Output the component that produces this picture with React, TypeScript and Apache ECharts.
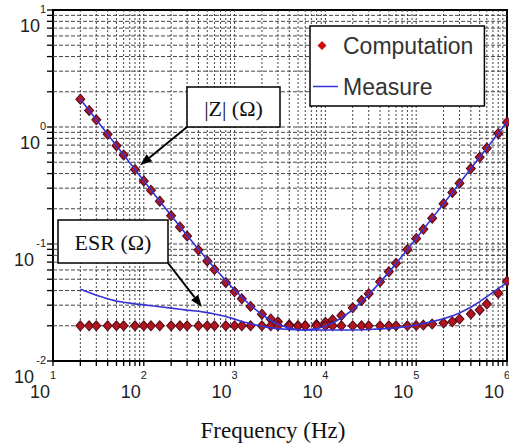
import React, { useEffect, useRef } from 'react';
import * as echarts from 'echarts';

// Measurement frequencies (Hz)
const freqHz = [
  20, 25, 30, 40, 50, 60, 80, 100, 120, 150, 200, 250, 300, 400, 500, 600, 800,
  1000, 1200, 1500, 2000, 2500, 3000, 4000, 5000, 6000, 8000,
  10000, 12000, 15000, 20000, 25000, 30000, 40000, 50000, 60000, 80000,
  100000, 120000, 150000, 200000, 250000, 300000, 400000, 500000, 600000, 800000,
  1000000,
];

// Computed impedance magnitude |Z| (ohm)
const zComputed = [
  1.73, 1.384, 1.153, 0.865, 0.692, 0.577, 0.433, 0.346, 0.288, 0.232, 0.174,
  0.140, 0.117, 0.0888, 0.0716, 0.0604, 0.0469, 0.0390, 0.0340, 0.0293, 0.0251,
  0.0229, 0.0216, 0.0204, 0.0200, 0.0200, 0.0205, 0.0214, 0.0225, 0.0245, 0.0285,
  0.0329, 0.0376, 0.0475, 0.0579, 0.0684, 0.0898, 0.1115, 0.1335, 0.1663, 0.221,
  0.276, 0.331, 0.441, 0.551, 0.661, 0.881, 1.10,
];

// Computed equivalent series resistance (ohm)
const esrComputed = [
  0.0200, 0.0200, 0.0200, 0.0200, 0.0200, 0.0200, 0.0200, 0.0200, 0.0200, 0.0200,
  0.0200, 0.0200, 0.0200, 0.0200, 0.0200, 0.0200, 0.0200, 0.0200, 0.0200, 0.0200,
  0.0200, 0.0200, 0.0200, 0.0200, 0.0200, 0.0200, 0.0200, 0.0200, 0.0200, 0.0200,
  0.0200, 0.0200, 0.0200, 0.0200, 0.0200, 0.0200, 0.0200, 0.0201, 0.0203, 0.0207,
  0.0211, 0.0216, 0.0228, 0.0252, 0.0273, 0.0307, 0.0380, 0.0480,
];

// Measured |Z| (ohm)
const zMeasured = [
  1.73, 1.385, 1.154, 0.866, 0.693, 0.578, 0.434, 0.347, 0.290, 0.232, 0.175,
  0.141, 0.118, 0.0900, 0.0734, 0.0623, 0.0487, 0.0405, 0.0351, 0.0298, 0.0249,
  0.0222, 0.0206, 0.0191, 0.0185, 0.0184, 0.0189, 0.0199, 0.0211, 0.0233, 0.0274,
  0.0320, 0.0369, 0.0470, 0.0575, 0.0682, 0.0898, 0.1116, 0.1336, 0.1664, 0.2212,
  0.2761, 0.331, 0.441, 0.551, 0.661, 0.881, 1.101,
];

// Measured ESR (ohm)
const esrMeasured = [
  0.0410, 0.0385, 0.0365, 0.0340, 0.0325, 0.0318, 0.0308, 0.0302, 0.0297, 0.0291,
  0.0283, 0.0277, 0.0272, 0.0266, 0.0259, 0.0252, 0.0240, 0.0228, 0.0218, 0.0208,
  0.0198, 0.0192, 0.0189, 0.0186, 0.0185, 0.0184, 0.0184, 0.0184, 0.0184, 0.0184,
  0.0184, 0.0185, 0.0186, 0.0188, 0.0190, 0.0192, 0.0197, 0.0203, 0.0209, 0.0217,
  0.0230, 0.0243, 0.0257, 0.0288, 0.0322, 0.0355, 0.0415, 0.0468,
];

// Decade exponents printed on the axes
const xExponents = ['1', '2', '3', '4', '5', '6'];
const yExponents = ['-2', '-1', '0', '1'];

const legendNames = ['Computation', 'Measure'];
const annotationTexts = ['|Z| (\u03A9)', 'ESR (\u03A9)'];

// Points (Hz, ohm) that the callout arrows point at
const zArrowTip = [91, 0.47];
const esrArrowTip = [437, 0.029];

const X_MIN = 10;
const X_MAX = 1e6;
const Y_MIN = 0.01;
const Y_MAX = 10;

// Decade + sub-decade grid positions (1..9 x 10^n)
function logGrid(min: number, max: number): number[] {
  const out: number[] = [];
  for (let d = Math.round(Math.log10(min)); d < Math.round(Math.log10(max)); d++) {
    for (let m = 1; m <= 9; m++) out.push(m * Math.pow(10, d));
  }
  out.push(max);
  return out;
}

const SANS = '"Liberation Sans", Arial, sans-serif';
const SERIF = '"Liberation Serif", "Times New Roman", serif';
const RED = '#b3151b';
const RED_EDGE = '#4d0a1e';
const BLUE = '#3434d6';

// Legend icons: a 25x9 box so the glyph keeps its own proportions
const DIAMOND_ICON = 'path://M9,0L13.5,4.5L9,9L4.5,4.5Z M0,0L0,0Z M25,9L25,9Z';
const LINE_ICON = 'path://M0,3.7L25,3.7L25,5.3L0,5.3Z M0,0L0,0Z M25,9L25,9Z';

function expOf(v: number, list: string[], base: number): string {
  const e = Math.round(Math.log10(v));
  return list[e - base] ?? String(e);
}

function arrow(id: string, x1: number, y1: number, x2: number, y2: number) {
  const dx = x2 - x1;
  const dy = y2 - y1;
  const len = Math.hypot(dx, dy);
  const ux = dx / len;
  const uy = dy / len;
  const head = 12;
  const half = 4.5;
  const bx = x2 - ux * head;
  const by = y2 - uy * head;
  return [
    {
      id: id + '-shaft',
      type: 'line',
      z: 100,
      shape: { x1, y1, x2: bx, y2: by },
      style: { stroke: '#000', lineWidth: 2 },
    },
    {
      id: id + '-head',
      type: 'polygon',
      z: 100,
      shape: {
        points: [
          [x2, y2],
          [bx - uy * half, by + ux * half],
          [bx + uy * half, by - ux * half],
        ],
      },
      style: { fill: '#000' },
    },
  ];
}

function calloutBox(id: string, x: number, y: number, w: number, h: number, text: string) {
  return [
    {
      id: id + '-box',
      type: 'rect',
      z: 100,
      shape: { x, y, width: w, height: h },
      style: { fill: '#fff', stroke: '#000', lineWidth: 1.5 },
    },
    {
      id: id + '-text',
      type: 'text',
      z: 101,
      x: x + w / 2,
      y: y + h / 2 + 1,
      style: {
        text,
        font: `22px ${SERIF}`,
        fill: '#111',
        align: 'center',
        verticalAlign: 'middle',
        textAlign: 'center',
        textVerticalAlign: 'middle',
      },
    },
  ];
}

export default function App() {
  const ref = useRef<HTMLDivElement>(null);

  useEffect(() => {
    const el = ref.current;
    if (!el) return;
    const chart = echarts.init(el, null, { renderer: 'svg' });

    const xGrid = logGrid(X_MIN, X_MAX).map((v) => [v, 1]);
    const yGrid = logGrid(Y_MIN, Y_MAX).map((v) => [X_MIN, v]);

    const gridDash = { stroke: '#444', lineWidth: 1 };

    const option: any = {
      animation: false,
      backgroundColor: '#fff',
      grid: {
        left: 53,
        right: 2,
        top: 10,
        bottom: 83,
        containLabel: false,
        outerBoundsMode: 'none',
        show: true,
        backgroundColor: '#fff',
        borderColor: '#000',
        borderWidth: 2,
      },
      legend: {
        orient: 'vertical',
        left: 310,
        top: 26,
        data: [
          {
            name: legendNames[0],
            icon: DIAMOND_ICON,
            itemStyle: { color: '#cc1010', borderWidth: 0 },
          },
          {
            name: legendNames[1],
            icon: LINE_ICON,
            itemStyle: { color: BLUE, borderWidth: 0 },
          },
        ],
        itemWidth: 25,
        itemHeight: 9,
        itemGap: 18,
        textStyle: { fontFamily: SANS, fontSize: 23, color: '#333' },
        backgroundColor: '#fff',
        borderColor: '#000',
        borderWidth: 1.5,
        borderRadius: 0,
        padding: [8, 11, 8, 3],
      },
      xAxis: {
        type: 'log',
        logBase: 10,
        min: X_MIN,
        max: X_MAX,
        splitNumber: 5,
        axisLine: { show: true, lineStyle: { color: '#000', width: 2 } },
        axisTick: { show: false },
        splitLine: { show: false },
        axisLabel: {
          margin: 8,
          color: '#222',
          fontFamily: SANS,
          formatter: (v: number) => `{e|${expOf(v, xExponents, 1)}}\n{b|10}`,
          rich: {
            e: { fontFamily: SANS, fontSize: 11, lineHeight: 12, color: '#222', padding: [0, 20, 0, 20] },
            b: { fontFamily: SANS, fontSize: 18, lineHeight: 22, color: '#222', padding: [0, 26, 0, 0] },
          },
        },
        name: 'Frequency (Hz)',
        nameLocation: 'middle',
        nameGap: 58,
        nameTextStyle: { fontFamily: SERIF, fontSize: 23, color: '#111', padding: [0, 14, 0, 0] },
      },
      yAxis: {
        type: 'log',
        logBase: 10,
        min: Y_MIN,
        max: Y_MAX,
        splitNumber: 3,
        axisLine: { show: true, lineStyle: { color: '#000', width: 2 } },
        axisTick: { show: false },
        splitLine: { show: false },
        axisLabel: {
          margin: 7,
          color: '#222',
          fontFamily: SANS,
          padding: [18, 0, 0, 0],
          formatter: (v: number) => {
            const e = expOf(v, yExponents, -2);
            const key = e.length > 1 ? 'b2' : 'b1';
            return `{e|${e}}\n{${key}|10}`;
          },
          rich: {
            e: { fontFamily: SANS, fontSize: 11, lineHeight: 14, color: '#222', padding: [0, 0, 0, 20], align: 'right' },
            b1: { fontFamily: SANS, fontSize: 18, lineHeight: 20, color: '#222', padding: [0, 6, 0, 0], align: 'right' },
            b2: { fontFamily: SANS, fontSize: 18, lineHeight: 20, color: '#222', padding: [0, 12, 0, 0], align: 'right' },
          },
        },
      },
      series: [
        {
          // vertical grid lines and bottom ticks
          type: 'custom',
          silent: true,
          data: xGrid,
          encode: { x: 0, y: 1 },
          renderItem: (params: any, api: any) => {
            const cs = params.coordSys;
            const x = api.coord([api.value(0), 1])[0];
            const bottom = cs.y + cs.height;
            const children: any[] = [];
            if (x > cs.x + 1 && x < cs.x + cs.width - 1) {
              children.push({
                type: 'line',
                shape: { x1: x, y1: cs.y, x2: x, y2: bottom },
                style: { ...gridDash, lineDash: [2, 2] },
              });
            }
            children.push({
              type: 'line',
              shape: { x1: x, y1: bottom, x2: x, y2: bottom + 5 },
              style: { stroke: '#000', lineWidth: 1.3 },
            });
            return { type: 'group', children };
          },
          z: 1,
        },
        {
          // horizontal grid lines and left ticks
          type: 'custom',
          silent: true,
          data: yGrid,
          encode: { x: 0, y: 1 },
          renderItem: (params: any, api: any) => {
            const cs = params.coordSys;
            const y = api.coord([X_MIN, api.value(1)])[1];
            const children: any[] = [];
            if (y > cs.y + 1 && y < cs.y + cs.height - 1) {
              children.push({
                type: 'line',
                shape: { x1: cs.x, y1: y, x2: cs.x + cs.width, y2: y },
                style: { ...gridDash, lineDash: [4, 2] },
              });
            }
            children.push({
              type: 'line',
              shape: { x1: cs.x - 6, y1: y, x2: cs.x, y2: y },
              style: { stroke: '#000', lineWidth: 1.3 },
            });
            return { type: 'group', children };
          },
          z: 1,
        },
        {
          name: legendNames[0],
          type: 'scatter',
          data: freqHz.map((f, i) => [f, zComputed[i]]),
          symbol: 'diamond',
          symbolSize: [9, 10],
          itemStyle: { color: RED, borderColor: RED_EDGE, borderWidth: 1, opacity: 1 },
          z: 3,
        },
        {
          name: legendNames[0],
          type: 'scatter',
          data: freqHz.map((f, i) => [f, esrComputed[i]]),
          symbol: 'diamond',
          symbolSize: [9, 10],
          itemStyle: { color: RED, borderColor: RED_EDGE, borderWidth: 1, opacity: 1 },
          z: 3,
        },
        {
          name: legendNames[1],
          type: 'line',
          data: freqHz.map((f, i) => [f, zMeasured[i]]),
          symbol: 'none',
          color: BLUE,
          lineStyle: { color: BLUE, width: 1.6 },
          z: 4,
        },
        {
          name: legendNames[1],
          type: 'line',
          data: freqHz.map((f, i) => [f, esrMeasured[i]]),
          symbol: 'none',
          color: BLUE,
          lineStyle: { color: BLUE, width: 1.6 },
          z: 4,
        },
      ],
    };

    chart.setOption(option);

    const zTip = chart.convertToPixel({ gridIndex: 0 }, zArrowTip) as number[];
    const esrTip = chart.convertToPixel({ gridIndex: 0 }, esrArrowTip) as number[];

    chart.setOption({
      graphic: [
        ...calloutBox('zlabel', 187, 87, 93, 40, annotationTexts[0]),
        ...arrow('zarrow', 187, 127, zTip[0], zTip[1]),
        ...calloutBox('esrlabel', 58, 220, 110, 43, annotationTexts[1]),
        ...arrow('esrarrow', 168, 263, esrTip[0], esrTip[1]),
      ],
    });

    return () => chart.dispose();
  }, []);

  return (
    <div
      ref={ref}
      style={{ position: 'fixed', left: 0, top: 0, width: 509, height: 444, background: '#fff' }}
    />
  );
}
